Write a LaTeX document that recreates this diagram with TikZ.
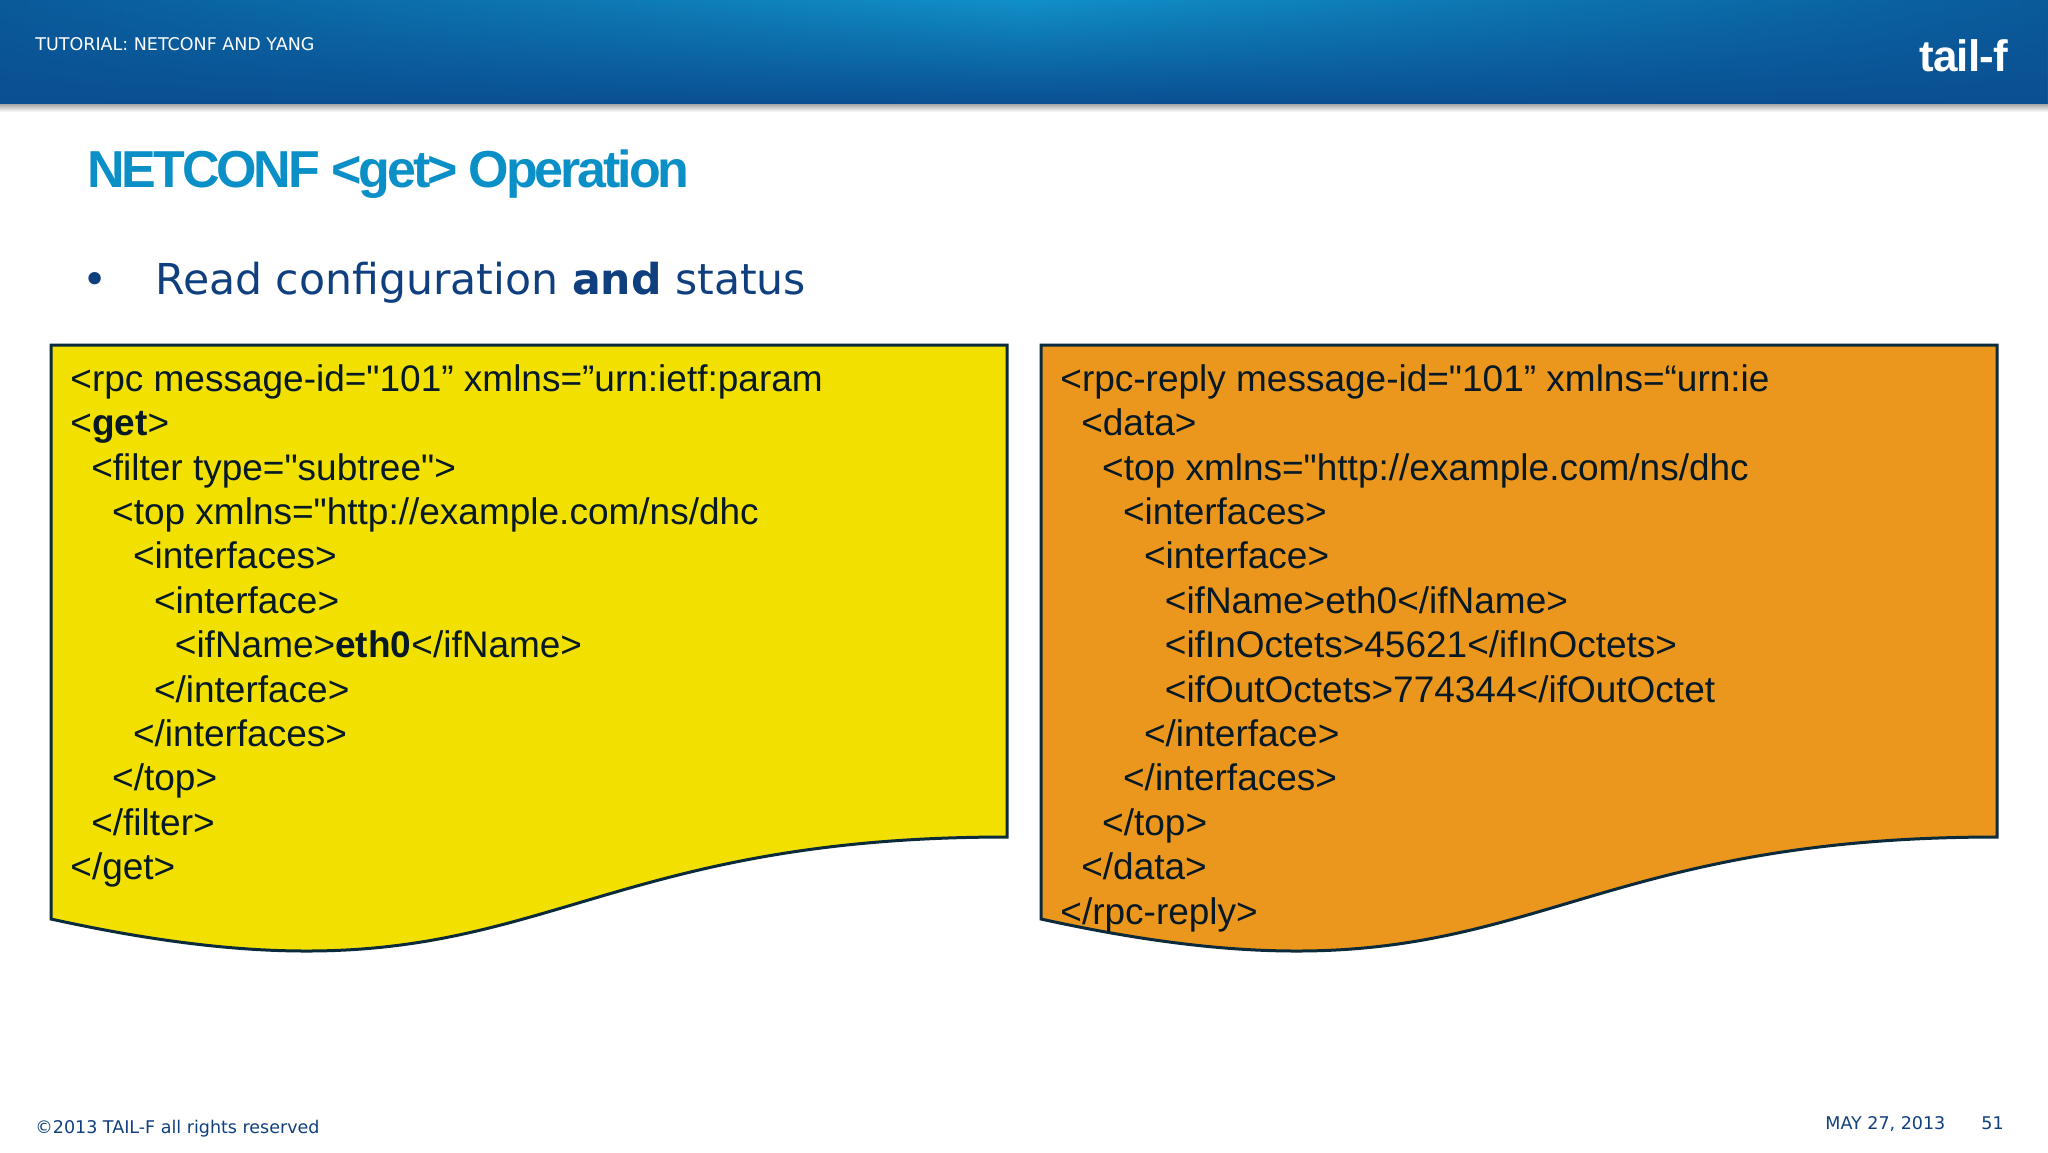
\documentclass[tikz,border=0pt]{standalone}
\usepackage{fontspec}
\setmainfont{Liberation Sans}
\newfontfamily\codefont{Liberation Sans}
\newfontfamily\slidefont{DejaVu Sans}
\usetikzlibrary{fadings}
\definecolor{bandDark}{HTML}{0A5A9A}
\definecolor{bandLight}{HTML}{1190C8}
\definecolor{bandLow}{HTML}{0A4F92}
\definecolor{titleBlue}{HTML}{0A8FC6}
\definecolor{slideNavy}{HTML}{0F3F7E}
\definecolor{boxLine}{HTML}{0B2A3C}
\definecolor{getYellow}{HTML}{F2E100}
\definecolor{replyOrange}{HTML}{EB971E}
\newcommand{\ind}[1]{\hspace*{#1\dimexpr10.45pt\relax}}
\tikzset{
	code/.style={anchor=north west, inner sep=0pt, align=left, text=boxLine!60!black,
		font=\codefont\fontsize{18.5pt}{22.2pt}\selectfont},
	slide/.style={anchor=base west, inner sep=0pt, text=slideNavy, font=\slidefont\fontsize{8.75pt}{10pt}\selectfont},
	bodytext/.style={slide, font=\slidefont\fontsize{21.3pt}{24pt}\selectfont},
}
\begin{document}
\begin{tikzpicture}[x=0.5pt, y=-0.5pt, line join=miter]
	\useasboundingbox (0,0) rectangle (2048,1152);
	% header band
	\shade [left color=bandDark, right color=bandDark, middle color=bandLight] (0,0) rectangle (2048,104);
	\fill [bandLow, path fading=north] (0,0) rectangle (2048,104);
	\shade [top color=black!35, bottom color=white] (0,104) rectangle (2048,112);
	\node [slide, text=white] (tutorial) at (35,50) {TUTORIAL: NETCONF AND YANG};
	\node [anchor=base west, inner sep=0pt, text=white, font=\bfseries\fontsize{22pt}{24pt}\selectfont] (logo) at (1919,71) {\addfontfeature{LetterSpace=-2}tail-f};
	% title and bullet
	\node [anchor=base west, inner sep=0pt, text=titleBlue, font=\bfseries\fontsize{26pt}{30pt}\selectfont] (title) at (87,187) {\addfontfeature{LetterSpace=-6}NETCONF <get> Operation};
	\node [bodytext] (bullet) at (82,294) {•};
	\node [bodytext] (read) at (155,294) {Read configuration \textbf{and} status};
	% the two documents
	\foreach \x/\col in {51/getYellow,1041/replyOrange} {
		\draw [fill=\col, draw=boxLine, line width=1.5pt]
			(\x,345) -- ++(956,0) -- ++(0,492)
			.. controls +(-478,0) and +(478,105) .. ++(-956,82) -- cycle;
	}
	\node [code] (request) at (70,364) {<rpc message-id="101” xmlns=”urn:ietf:param\\
		<\textbf{get}>\\
		\ind{1}<filter type="subtree">\\
		\ind{2}<top xmlns="http://example.com/ns/dhc\\
		\ind{3}<interfaces>\\
		\ind{4}<interface>\\
		\ind{5}<ifName>\textbf{eth0}</ifName>\\
		\ind{4}</interface>\\
		\ind{3}</interfaces>\\
		\ind{2}</top>\\
		\ind{1}</filter>\\
		</get>};
	\node [code] (reply) at (1060,364) {<rpc-reply message-id="101” xmlns=“urn:ie\\
		\ind{1}<data>\\
		\ind{2}<top xmlns="http://example.com/ns/dhc\\
		\ind{3}<interfaces>\\
		\ind{4}<interface>\\
		\ind{5}<ifName>eth0</ifName>\\
		\ind{5}<ifInOctets>45621</ifInOctets>\\
		\ind{5}<ifOutOctets>774344</ifOutOctet\\
		\ind{4}</interface>\\
		\ind{3}</interfaces>\\
		\ind{2}</top>\\
		\ind{1}</data>\\
		</rpc-reply>};
	% footer
	\node [slide] (copyright) at (35,1133) {©2013 TAIL-F all rights reserved};
	\node [slide] (date) at (1825,1129) {MAY 27, 2013};
	\node [slide] (page) at (1981,1129) {51};
\end{tikzpicture}
\end{document}
